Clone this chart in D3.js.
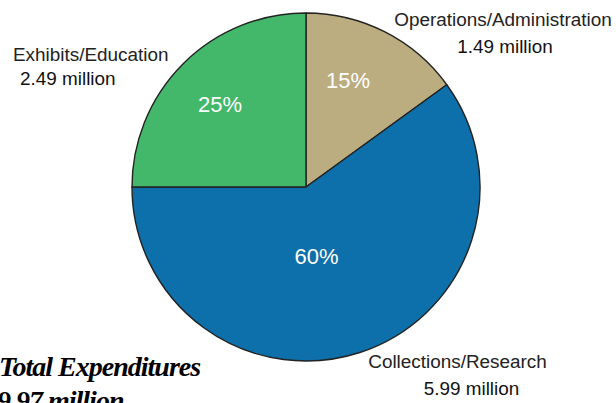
<!DOCTYPE html>
<html>
<head>
<meta charset="utf-8">
<script src="https://cdn.jsdelivr.net/npm/d3@7"></script>
<style>
  body { margin: 0; background: #fff; }
  svg { display: block; }
  .lbl { font-family: "Liberation Sans", Arial, sans-serif; font-size: 18.9px; fill: #222; }
  .pct { font-family: "Liberation Sans", Arial, sans-serif; font-size: 22px; fill: #fff; }
  .total { font-family: "Liberation Serif", "Times New Roman", serif; font-weight: bold; font-style: italic; font-size: 28px; fill: #000; letter-spacing: -1px; }
</style>
</head>
<body>
<svg id="chart"></svg>
<script>
// chart data
var categories = ["Operations/Administration", "Collections/Research", "Exhibits/Education"];
var amounts = ["1.49 million", "5.99 million", "2.49 million"];
var shares = [15, 60, 25];
var colors = ["#bbad80", "#0e70aa", "#44b86a"];
var totalLines = ["Total Expenditures", "9.97 million"];

var width = 616, height = 403;
var cx = 306, cy = 187, radius = 174;

var svg = d3.select("#chart").attr("width", width).attr("height", height);
var g = svg.append("g").attr("transform", "translate(" + cx + "," + cy + ")");

var pie = d3.pie().sort(null).value(function(d){ return d; });
var arc = d3.arc().innerRadius(0).outerRadius(radius);
var arcs = pie(shares);

g.selectAll("path.slice").data(arcs).enter().append("path")
    .attr("class", "slice")
    .attr("d", arc)
    .attr("fill", function(d, i){ return colors[i]; })
    .attr("stroke", "#222")
    .attr("stroke-width", 1.4)
    .attr("stroke-linejoin", "round");

// percentage labels inside the slices
var pctPos = [[42, -99], [10.5, 77], [-86, -75]];
g.selectAll("text.pct").data(arcs).enter().append("text")
    .attr("class", "pct")
    .attr("text-anchor", "middle")
    .attr("x", function(d, i){ return pctPos[i][0]; })
    .attr("y", function(d, i){ return pctPos[i][1]; })
    .text(function(d, i){ return shares[i] + "%"; });

// category labels outside
var labelPos = [
  {x1: 503, y1: 26, x2: 505, y2: 53, anchor: "middle"},
  {x1: 457.5, y1: 368, x2: 471.5, y2: 395, anchor: "middle"},
  {x1: 13, y1: 61, x2: 20, y2: 85, anchor: "start"}
];
categories.forEach(function(c, i){
  var p = labelPos[i];
  svg.append("text").attr("class", "lbl").attr("text-anchor", p.anchor)
      .attr("x", p.x1).attr("y", p.y1).text(c);
  svg.append("text").attr("class", "lbl").attr("text-anchor", p.anchor)
      .attr("x", p.x2).attr("y", p.y2).style("fill", "#111").text(amounts[i]);
});

// total
svg.append("text").attr("class", "total").attr("x", -1).attr("y", 376).text(totalLines[0]);
svg.append("text").attr("class", "total").attr("x", -3).attr("y", 410).text(totalLines[1]);
</script>
</body>
</html>
